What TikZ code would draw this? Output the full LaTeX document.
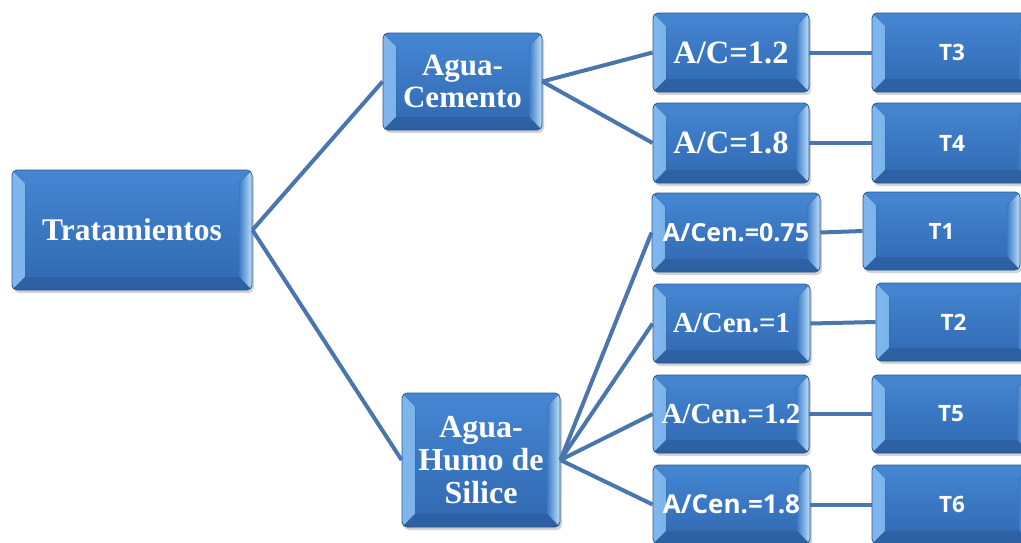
\documentclass[tikz,border=0pt]{standalone}
\usepackage{fontspec}
\setmainfont{Liberation Serif}
\newfontfamily\sansb{Open Sans}
\usetikzlibrary{shadows}
\definecolor{boxtop}{HTML}{4586D3}
\definecolor{boxbot}{HTML}{3068B0}
\definecolor{boxmid}{HTML}{3C7AC6}
\definecolor{boxborder}{HTML}{2A5890}
\definecolor{bevlight}{HTML}{80B8EE}
\definecolor{bevbright}{HTML}{BDE1FC}
\definecolor{bevdark}{HTML}{2A5B9A}
\definecolor{linkcol}{HTML}{4A76AD}
\tikzset{
  box/.style={draw=boxborder, line width=0.8pt, rounded corners=5pt,
    top color=boxtop, bottom color=boxbot, text=white, align=center,
    inner sep=0pt,
    drop shadow={opacity=0.35, shadow xshift=2pt, shadow yshift=-3pt},
    path picture={
      \fill[sharp corners, left color=bevlight, right color=boxmid]
        (path picture bounding box.south west) -- (path picture bounding box.north west)
        -- ([shift={(13pt,-13pt)}]path picture bounding box.north west)
        -- ([shift={(13pt,13pt)}]path picture bounding box.south west) -- cycle;
      \fill[sharp corners, left color=boxmid, right color=bevbright]
        (path picture bounding box.south east) -- (path picture bounding box.north east)
        -- ([shift={(-13pt,-13pt)}]path picture bounding box.north east)
        -- ([shift={(-13pt,13pt)}]path picture bounding box.south east) -- cycle;
      \fill[sharp corners, bevdark, opacity=0.6]
        (path picture bounding box.south west) -- (path picture bounding box.south east)
        -- ([shift={(-13pt,13pt)}]path picture bounding box.south east)
        -- ([shift={(13pt,13pt)}]path picture bounding box.south west) -- cycle;
      \fill[sharp corners, boxtop, opacity=0.6]
        (path picture bounding box.north west) -- (path picture bounding box.north east)
        -- ([shift={(-13pt,-13pt)}]path picture bounding box.north east)
        -- ([shift={(13pt,-13pt)}]path picture bounding box.north west) -- cycle;
    }},
  serifbig/.style={font=\fontsize{31.5}{32}\selectfont\bfseries},
  serifac/.style={font=\fontsize{32.5}{34}\selectfont\bfseries},
  serifmid/.style={font=\fontsize{29}{30}\selectfont\bfseries},
  sansmid/.style={font=\sansb\fontsize{25}{26}\selectfont\bfseries},
  sanssmall/.style={font=\sansb\fontsize{22.5}{24}\selectfont\bfseries},
  link/.style={draw=linkcol, line width=4pt},
}
\begin{document}
\begin{tikzpicture}[x=1pt,y=-1pt]
\useasboundingbox (0,0) rectangle (1021,542);
% level 0
\node[box, serifbig, minimum width=240pt, minimum height=120pt] (trat) at (132,230) {Tratamientos};
% level 1
\node[box, font=\fontsize{31}{32}\selectfont\bfseries, minimum width=159pt, minimum height=97pt] (ac) at (462.5,81.5) {Agua-\\Cemento};
\node[box, font=\fontsize{32}{33}\selectfont\bfseries, minimum width=158pt, minimum height=134pt] (ah) at (481,460) {Agua-\\Humo de\\Silice};
% level 2
\node[box, serifac, minimum width=156pt, minimum height=79pt] (ac1) at (731,52.5) {A/C=1.2};
\node[box, serifac, minimum width=156pt, minimum height=80pt] (ac2) at (731,143) {A/C=1.8};
\node[box, sansmid, minimum width=168pt, minimum height=79pt] (c1) at (736,232.5) {A/Cen.=0.75};
\node[box, serifmid, minimum width=157pt, minimum height=79pt] (c2) at (731.5,323.5) {A/Cen.=1};
\node[box, serifmid, minimum width=156pt, minimum height=78pt] (c3) at (731,414) {A/Cen.=1.2};
\node[box, font=\sansb\fontsize{26}{28}\selectfont\bfseries, minimum width=157pt, minimum height=79pt] (c4) at (731.5,504.5) {A/Cen.=1.8};
% level 3
\node[box, sanssmall, minimum width=160pt, minimum height=79pt] (t3) at (952,52.5) {T3};
\node[box, sanssmall, minimum width=160pt, minimum height=80pt] (t4) at (952,143) {T4};
\node[box, sanssmall, minimum width=157pt, minimum height=78pt] (t1) at (941.5,231) {T1};
\node[box, sanssmall, minimum width=155pt, minimum height=78pt] (t2) at (953.5,322) {T2};
\node[box, sanssmall, minimum width=158pt, minimum height=78pt] (t5) at (951,414) {T5};
\node[box, sanssmall, minimum width=160pt, minimum height=79pt] (t6) at (952,504.5) {T6};
% connectors
\draw[link] (trat.east) -- (ac.west);
\draw[link] (trat.east) -- (ah.west);
\draw[link] (ac.east) -- (ac1.west);
\draw[link] (ac.east) -- (ac2.west);
\draw[link] (ah.east) -- (c1.west);
\draw[link] (ah.east) -- (c2.west);
\draw[link] (ah.east) -- (c3.west);
\draw[link] (ah.east) -- (c4.west);
\draw[link] (ac1.east) -- (t3.west);
\draw[link] (ac2.east) -- (t4.west);
\draw[link] (c1.east) -- (t1.west);
\draw[link] (c2.east) -- (t2.west);
\draw[link] (c3.east) -- (t5.west);
\draw[link] (c4.east) -- (t6.west);
\end{tikzpicture}
\end{document}
